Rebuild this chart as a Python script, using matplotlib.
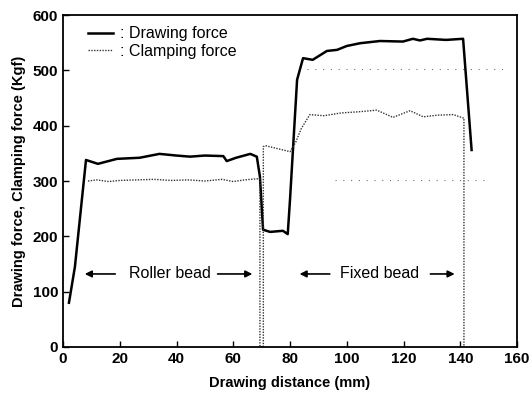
import numpy as np
import matplotlib.pyplot as plt

# ==============================
# DATA
# ==============================
draw_x = [2.1, 4.2, 8.1, 12.3, 19, 27, 34, 40, 44.8, 50, 56.5, 57.7, 61, 66, 68.3,
          69.4, 70.5, 73, 77.5, 79.2, 80, 82.5, 84.6, 88, 93, 96.6, 100, 104.7,
          111.7, 119.8, 123.3, 125.8, 128.3, 135, 141, 144]
draw_y = [80, 145, 338, 331, 340, 342, 349, 346, 344, 346, 345, 336, 342, 349, 344,
          308, 212, 208, 210, 204, 266, 483, 522, 519, 535, 537, 544, 549,
          553, 552, 557, 554, 557, 555, 557, 356]

clamp_x = [8.8, 12, 16, 20, 26, 32, 38, 44, 50, 56, 60, 64, 68.3, 69.4, 69.4,
           70.6, 70.6, 71.2, 76, 80, 82, 84, 87, 92, 98, 104, 110.6, 116.3,
           122.3, 127, 132, 137.5, 141, 141.3, 141.3]
clamp_y = [300, 302, 299, 301, 302, 303, 301, 302, 300, 303, 299, 302, 304, 304, 0,
           0, 362, 364, 358, 353, 370, 395, 420, 418, 423, 425, 428, 415,
           427, 416, 419, 420, 414, 414, 0]

# faint dotted traces left on the scan
grid_500_x = [86, 157]
grid_300_x = [96, 150]

# ==============================
# PLOT
# ==============================
plt.rcParams['font.family'] = ['Liberation Sans', 'DejaVu Sans']

fig = plt.figure(figsize=(5.32, 4.00), dpi=100)
ax = fig.add_axes([63 / 532, 1 - 347 / 400, (517 - 63) / 532, (347 - 15) / 400])

ax.plot(grid_500_x, [503, 503], color='0.45', lw=0.8, linestyle=(0, (1, 6)))
ax.plot(grid_300_x, [302, 302], color='0.45', lw=0.8, linestyle=(0, (1, 6)))

ax.plot(draw_x, draw_y, color='black', lw=1.8, label=': Drawing force')
ax.plot(clamp_x, clamp_y, color='0.2', lw=1.0, linestyle=(0, (1, 1)),
        label=': Clamping force')

ax.set_xlim(0, 160)
ax.set_ylim(0, 600)
ax.set_xticks(np.arange(0, 161, 20))
ax.set_yticks(np.arange(0, 601, 100))
ax.tick_params(direction='in', length=4, width=1, labelsize=11)
for lbl in ax.get_xticklabels() + ax.get_yticklabels():
    lbl.set_fontweight('bold')
for s in ax.spines.values():
    s.set_linewidth(1.3)

ax.set_xlabel('Drawing distance (mm)', fontsize=10.5, fontweight='bold', labelpad=7)
ax.set_ylabel('Drawing force, Clamping force (Kgf)', fontsize=10.5, fontweight='bold',
              labelpad=5)

ax.legend(loc='upper left', frameon=False, fontsize=11.5, handlelength=1.6,
          handletextpad=0.4, borderaxespad=0.3, labelspacing=0.15,
          bbox_to_anchor=(0.03, 1.0))

# bead annotations
arrow = dict(arrowstyle='-|>', color='black', lw=1.2, mutation_scale=10)
ax.text(37.7, 132, 'Roller bead', ha='center', va='center', fontsize=11.5)
ax.annotate('', xy=(6.7, 132), xytext=(19.4, 132), arrowprops=arrow)
ax.annotate('', xy=(67.7, 132), xytext=(53.5, 132), arrowprops=arrow)
ax.text(111.7, 132, 'Fixed bead', ha='center', va='center', fontsize=11.5)
ax.annotate('', xy=(82.4, 132), xytext=(95, 132), arrowprops=arrow)
ax.annotate('', xy=(139, 132), xytext=(128.5, 132), arrowprops=arrow)

fig.savefig('out.png', dpi=100)
